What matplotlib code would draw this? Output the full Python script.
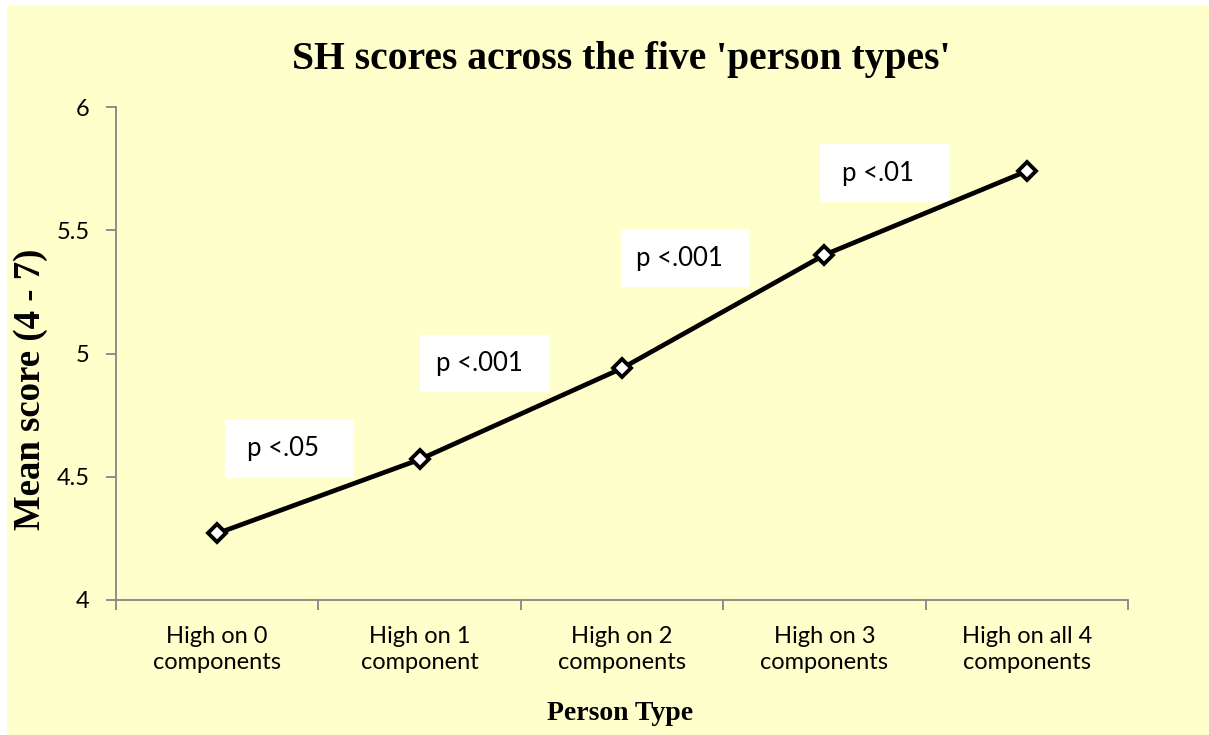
import matplotlib
matplotlib.use("Agg")
import matplotlib.pyplot as plt
from matplotlib.patches import Rectangle

categories = ["High on 0\ncomponents", "High on 1\ncomponent", "High on 2\ncomponents",
              "High on 3\ncomponents", "High on all 4\ncomponents"]
mean_scores = [4.27, 4.57, 4.94, 5.40, 5.74]
p_labels = ["p <.05", "p <.001", "p <.001", "p <.01"]
p_label_x = [0.357, 1.324, 2.313, 3.297]
p_label_y = [4.613, 4.959, 5.387, 5.732]
y_ticks = [4, 4.5, 5, 5.5, 6]
y_tick_labels = ["4", "4.5", "5", "5.5", "6"]

W, H = 1209, 735
fig = plt.figure(figsize=(W / 100, H / 100), dpi=100)
fig.patch.set_facecolor("white")
bg = Rectangle((7 / W, 0), 1 - 7 / W, 1 - 5 / H, transform=fig.transFigure,
               facecolor="#FFFFCC", edgecolor="none", zorder=-10)
fig.patches.append(bg)

ax = fig.add_axes([116 / W, (H - 600) / H, (1128 - 116) / W, (600 - 107) / H])
ax.set_facecolor("none")

x = list(range(len(categories)))
ax.plot(x, mean_scores, color="black", lw=3.4, marker="D", markersize=9.5,
        markerfacecolor="white", markeredgecolor="black", markeredgewidth=2.8,
        zorder=5, clip_on=False)

ax.set_xlim(-0.5, len(categories) - 0.5)
ax.set_ylim(4, 6)

spine_col = "#868686"
for s in ["top", "right"]:
    ax.spines[s].set_visible(False)
for s in ["left", "bottom"]:
    ax.spines[s].set_color(spine_col)
    ax.spines[s].set_linewidth(1.3)

tick_font = "Lato"
ax.set_yticks(y_ticks)
ax.set_yticklabels(y_tick_labels, fontfamily=tick_font, fontsize=17)
ax.tick_params(axis="y", length=7, width=1.3, color=spine_col, pad=12)

ax.set_xticks(x)
ax.set_xticklabels(categories, fontfamily=tick_font, fontsize=17, linespacing=1.3)
ax.tick_params(axis="x", length=0, pad=19)
ax.set_xticks([i - 0.5 for i in range(len(categories) + 1)], minor=True)
ax.tick_params(axis="x", which="minor", length=7, width=1.3, color=spine_col)

box_w, box_h = 0.64, 0.233
for lab, bx, by in zip(p_labels, p_label_x, p_label_y):
    ax.add_patch(Rectangle((bx - box_w / 2, by - box_h / 2), box_w, box_h,
                           facecolor="white", edgecolor="none", zorder=3))
    ax.text(bx - 0.03, by, lab, ha="center", va="center", fontsize=18.5,
            fontfamily=tick_font, zorder=4)

serif = "Liberation Serif"
fig.text(621 / W, 1 - 59 / H, "SH scores across the five 'person types'",
         ha="center", va="center", fontsize=28.5, fontweight="bold", fontfamily=serif)
fig.text(31 / W, 1 - 389 / H, "Mean score (4 - 7)", rotation=90, ha="center",
         va="center", fontsize=26.5, fontweight="bold", fontfamily=serif)
fig.text(620 / W, 1 - 714 / H, "Person Type", ha="center", va="center",
         fontsize=20, fontweight="bold", fontfamily=serif)

fig.savefig("out.png", dpi=100)
